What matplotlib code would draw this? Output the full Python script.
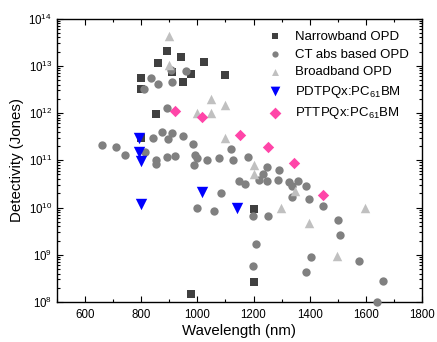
import matplotlib

matplotlib.use("Agg")
import matplotlib.pyplot as plt
from matplotlib.ticker import LogLocator, MultipleLocator, NullFormatter

plt.rcParams["font.family"] = ["Liberation Sans", "DejaVu Sans"]
plt.rcParams["mathtext.default"] = "regular"

# Narrowband OPD
narrow_wl = [800, 800, 858, 890, 908, 940, 947, 978, 1024, 1097, 852, 978, 1200, 1200, 800]
narrow_d = [5.6e12, 3.3e12, 1.15e13, 2.1e13, 7.4e12, 1.55e13, 4.5e12, 6.8e12, 1.2e13,
            6.5e12, 9.3e11, 1.5e8, 9.1e9, 2.7e8, 3.0e11]

# CT abs based OPD
ct_wl = [835, 810, 860, 910, 907, 959, 890, 874, 841, 894, 910, 950, 986, 660, 711,
         742, 812, 851, 890, 920, 992, 998, 1033, 1077, 1119, 1128, 1181, 989, 851,
         1148, 1168, 1084, 998, 1058, 1247, 1233, 1218, 1247, 1287, 1292, 1326, 1337,
         1357, 1387, 1337, 1396, 1446, 1198, 1252, 1501, 1507, 1207, 1405, 1577, 1198,
         1387, 1660, 1640]
ct_d = [5.6e12, 3.3e12, 4.1e12, 4.6e12, 8.1e12, 7.9e12, 1.3e12, 4.0e11, 3.0e11, 2.8e11,
        3.7e11, 3.3e11, 2.2e11, 2.1e11, 1.9e11, 1.3e11, 1.5e11, 1.0e11, 1.2e11, 1.25e11,
        1.3e11, 1.1e11, 1.0e11, 1.1e11, 1.7e11, 1.02e11, 1.15e11, 8.0e10, 8.5e10, 3.7e10,
        3.2e10, 2.0e10, 1.0e10, 8.5e9, 7.2e10, 5.2e10, 3.8e10, 3.6e10, 3.9e10, 6.3e10,
        3.4e10, 2.8e10, 3.6e10, 2.8e10, 1.65e10, 1.5e10, 1.1e10, 6.6e9, 6.6e9, 5.4e9,
        2.6e9, 1.65e9, 9.1e8, 7.2e8, 5.9e8, 4.3e8, 2.75e8, 1.0e8]

# Broadband OPD
broad_wl = [900, 900, 1050, 1097, 998, 1050, 1097, 1200, 1200, 1347, 1297, 1396, 1596, 1496]
broad_d = [4.2e13, 1.02e13, 2.0e12, 1.5e12, 1.0e12, 1.0e12, 3.0e11, 7.8e10, 5.0e10,
           2.2e10, 9.6e9, 4.8e9, 9.6e9, 9.3e8]

# PDTPQx:PC61BM
pdt_wl = [792, 792, 800, 800, 1015, 1140]
pdt_d = [2.95e11, 1.5e11, 9.5e10, 1.2e10, 2.1e10, 1.0e10]

# PTTPQx:PC61BM
ptt_wl = [920, 1018, 1151, 1250, 1345, 1446]
ptt_d = [1.1e12, 8.1e11, 3.5e11, 1.9e11, 8.7e10, 1.8e10]

fig = plt.figure(figsize=(4.37, 3.42), dpi=100)
ax = fig.add_axes([57 / 437, 1 - 302 / 342, 365 / 437, 283.5 / 342])

ax.scatter(narrow_wl, narrow_d, marker="s", s=5.2 ** 2, color="#404040",
           linewidths=0, label="Narrowband OPD", clip_on=False, zorder=3)
ax.scatter(ct_wl, ct_d, marker="o", s=6.0 ** 2, color="#808080",
           linewidths=0, label="CT abs based OPD", clip_on=False, zorder=3)
ax.scatter(broad_wl, broad_d, marker="^", s=6.8 ** 2, color="#c0c0c0",
           linewidths=0, label="Broadband OPD", clip_on=False, zorder=3)
ax.scatter(pdt_wl, pdt_d, marker="v", s=8.2 ** 2, color="#0000ff",
           linewidths=0, label="PDTPQx:PC$_{61}$BM", clip_on=False, zorder=3)
ax.scatter(ptt_wl, ptt_d, marker="D", s=5.8 ** 2, color="#ff45a8",
           linewidths=0, label="PTTPQx:PC$_{61}$BM", clip_on=False, zorder=3)

ax.set_xlim(500, 1800)
ax.set_yscale("log")
ax.set_ylim(1e8, 1e14)
ax.xaxis.set_minor_locator(MultipleLocator(100))
ax.set_xticks([600, 800, 1000, 1200, 1400, 1600, 1800])
ax.yaxis.set_major_locator(LogLocator(base=10, numticks=10))
ax.yaxis.set_minor_locator(LogLocator(base=10, subs=range(2, 10), numticks=20))
ax.yaxis.set_minor_formatter(NullFormatter())

ax.tick_params(which="both", direction="in", top=True, right=True, labelsize=8.3,
               width=0.8, colors="black")
ax.tick_params(which="major", length=4.5)
ax.tick_params(which="minor", length=2.5)
ax.tick_params(axis="x", which="major", pad=5)
for spine in ax.spines.values():
    spine.set_linewidth(1.0)

ax.set_xlabel("Wavelength (nm)", fontsize=10.8, labelpad=2.5)
ax.set_ylabel("Detectivity (Jones)", fontsize=10.8, labelpad=3)

leg = ax.legend(loc="upper left", bbox_to_anchor=(262 / 437, 1 - 24 / 342),
                bbox_transform=fig.transFigure, frameon=False, fontsize=9.5,
                handletextpad=1.0, labelspacing=0.42, borderpad=0, scatterpoints=1,
                handlelength=1.0)
for handle, size in zip(leg.legend_handles, [3.8, 4.5, 5.0, 7.0, 6.0]):
    handle.set_sizes([size ** 2])

fig.savefig("out.png", dpi=100)
plt.close(fig)
